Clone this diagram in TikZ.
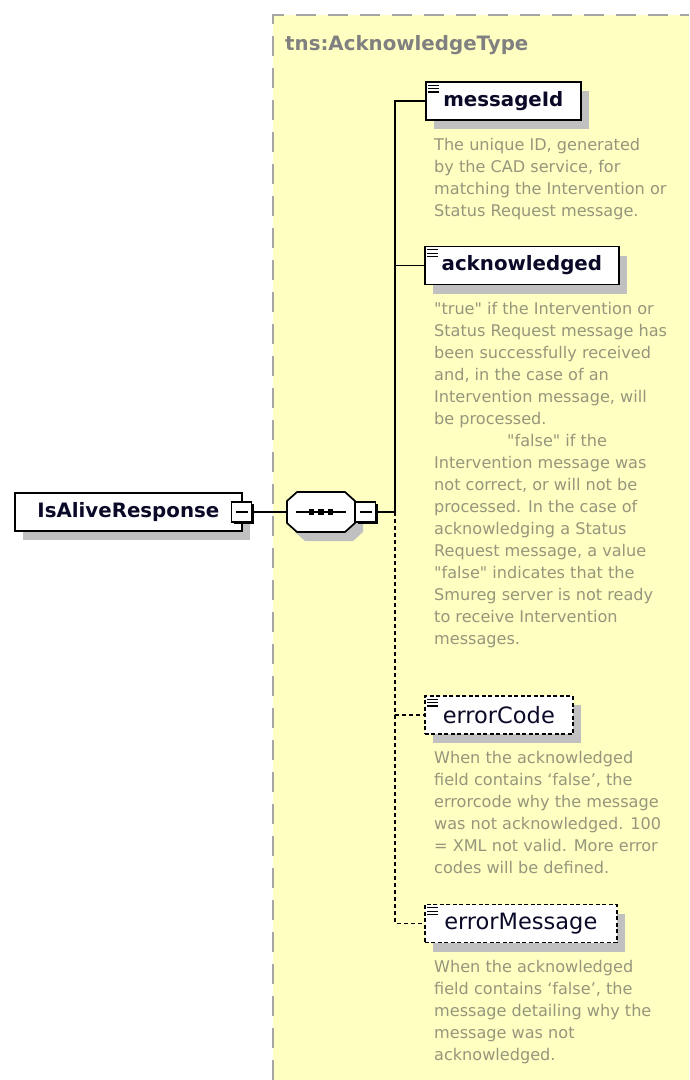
\documentclass[tikz,border=0pt]{standalone}
\usepackage{fontspec}
\setmainfont{DejaVu Sans}
% documentation text keeps straight quotes (no TeX ligature mapping)
\newfontfamily\docfont{DejaVu Sans}
\usetikzlibrary{shadows}

\definecolor{typebg}{RGB}{255,255,194}
\definecolor{typeline}{RGB}{165,165,165}
\definecolor{typetitle}{RGB}{128,128,128}
\definecolor{doctext}{RGB}{150,150,125}
\definecolor{shadowgray}{RGB}{192,192,192}
\definecolor{elemtext}{RGB}{10,10,40}

% octagon outline around a centre coordinate, offset by (#2,#3)
\newcommand\seqoctagon[3]{%
  ([shift={(#2-24,#3-20)}]#1) -- ([shift={(#2+24,#3-20)}]#1)
  -- ([shift={(#2+34,#3-11)}]#1) -- ([shift={(#2+34,#3+11)}]#1)
  -- ([shift={(#2+24,#3+20)}]#1) -- ([shift={(#2-24,#3+20)}]#1)
  -- ([shift={(#2-34,#3+11)}]#1) -- ([shift={(#2-34,#3-11)}]#1) -- cycle}

\begin{document}
\begin{tikzpicture}[x=1pt,y=-1pt,
  elemshadow/.style={drop shadow={shadow xshift=8pt,shadow yshift=-9pt,fill=shadowgray,opacity=1}},
  elembox/.style={draw=black,line width=1.7pt,fill=white,inner sep=0pt,
    minimum height=38pt,anchor=west,text=elemtext,
    font=\fontsize{19.8}{24}\selectfont\bfseries,elemshadow},
  elemicon/.style={path picture={
    \foreach \dy in {3.2,6.6,10}
      \draw[black,line width=1.2pt,solid]
        ([xshift=2.5pt,yshift=-\dy pt]path picture bounding box.north west) -- ++(11,0);}},
  elem/.style={elembox,elemicon},
  optelem/.style={elembox,elemicon,line width=1.6pt,dash pattern=on 4pt off 2.5pt,
    font=\fontsize{22.5}{26}\selectfont},
  btn/.style={draw=black,line width=1.8pt,fill=white,minimum size=20pt,inner sep=0pt,
    drop shadow={shadow xshift=2.2pt,shadow yshift=-2.2pt,fill=black,opacity=1},
    path picture={\draw[black,line width=1.1pt]
      ([xshift=-6pt]path picture bounding box.center) -- ([xshift=6pt]path picture bounding box.center);}},
  seqframe/.style={minimum width=68pt,minimum height=40pt,inner sep=0pt},
  conn/.style={black,line width=1.5pt},
  optline/.style={dash pattern=on 4pt off 3pt},
  doc/.style={anchor=base west,inner sep=0pt,text=doctext,font=\docfont\fontsize{16.1}{22}\selectfont},
  typeborder/.style={typeline,line width=2pt,dash pattern=on 20pt off 12pt}
]
\useasboundingbox (0,0) rectangle (689,1080);

% complex type area
\fill[typebg] (273,15) rectangle (689,1080);
\draw[typeborder] (273,1080) -- (273,15) -- (689,15);
\node[anchor=base west,inner sep=0pt,text=typetitle,font=\fontsize{19.8}{24}\selectfont\bfseries]
  (typename) at (285,50) {tns:AcknowledgeType};

% root element
\node[elembox,minimum width=227pt] (root) at (14,512) {IsAliveResponse};
\node[btn] (b1) at (241.5,512) {};

% sequence compositor: an octagon drawn round node seq
\node[seqframe] (seq) at (321,512) {};
\coordinate (seqc) at (seq.center);
\fill[shadowgray] \seqoctagon{seqc}{8}{9};
\filldraw[fill=white,draw=black,line width=1.7pt] \seqoctagon{seqc}{0}{0};
\draw[line width=1.4pt] ([xshift=-25pt]seqc) -- ([xshift=25pt]seqc);
\foreach \dx in {-9.5,0,9.5}
  \fill[black] ([shift={(\dx-2.6,-2.6)}]seqc) rectangle ++(5.2,5.2);
\node[btn] (b2) at (365.5,512) {};
\coordinate (trunk) at (395,512);

% child elements
\node[elem,minimum width=155pt] (mid) at (425,101) {messageId};
\node[elem,minimum width=194pt] (ack) at (424,265.5) {acknowledged};
\node[optelem,minimum width=148pt] (ec) at (424,715) {errorCode};
\node[optelem,minimum width=192pt] (em) at (424,923.5) {errorMessage};

% connectors
\draw[conn] (b1.east) -- (seq.west);
\draw[conn] (b2.east) -- (trunk);
\draw[conn] (trunk) |- (mid.west);
\draw[conn] (trunk) |- (ack.west);
\draw[conn,optline] (trunk) |- (ec.west);
\draw[conn,optline] (trunk) |- (em.west);

% documentation
\foreach \t [count=\i] in {{The unique ID, generated},{by the CAD service, for},
    {matching the Intervention or},{Status Request message.}}
  \node[doc] (middoc-\i) at (434,128+22*\i) {\t};

\foreach \t [count=\i] in {{"true" if the Intervention or},{Status Request message has},
    {been successfully received},{and, in the case of an},{Intervention message, will},
    {be processed.},{\hspace*{73pt}"false" if the},{Intervention message was},
    {not correct, or will not be},{processed. In the case of},{acknowledging a Status},
    {Request message, a value},{"false" indicates that the},{Smureg server is not ready},
    {to receive Intervention},{messages.}}
  \node[doc] (ackdoc-\i) at (434,292+22*\i) {\t};

\foreach \t [count=\i] in {{When the acknowledged},{field contains ‘false’, the},
    {errorcode why the message},{was not acknowledged. 100},{= XML not valid. More error},
    {codes will be defined.}}
  \node[doc] (ecdoc-\i) at (434,741+22*\i) {\t};

\foreach \t [count=\i] in {{When the acknowledged},{field contains ‘false’, the},
    {message detailing why the},{message was not},{acknowledged.}}
  \node[doc] (emdoc-\i) at (434,950+22*\i) {\t};
\end{tikzpicture}
\end{document}
